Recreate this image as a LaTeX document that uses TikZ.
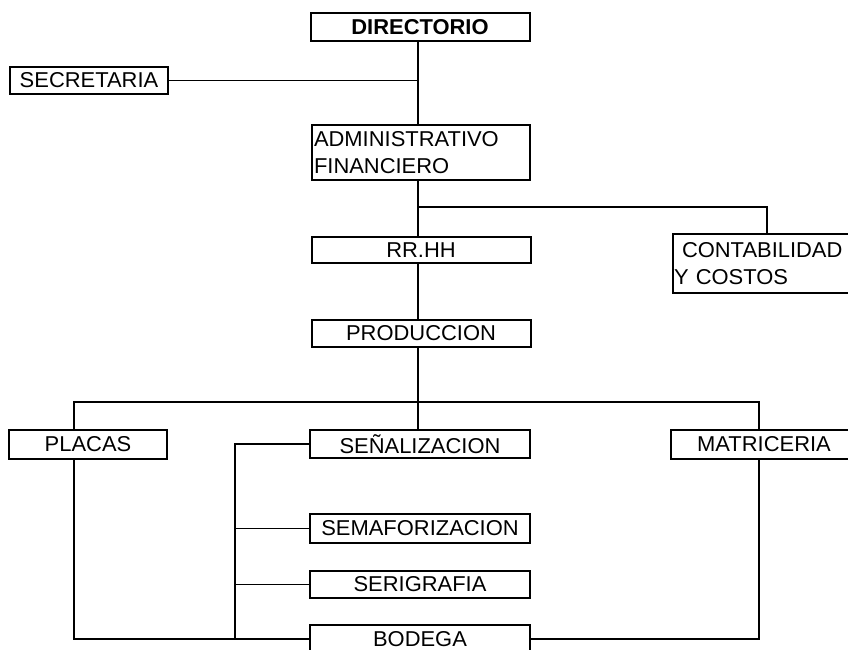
\documentclass[tikz,border=0pt]{standalone}
\usepackage{fontspec}
\setmainfont{Liberation Sans}[FakeStretch=1.02]
\begin{document}
\begin{tikzpicture}[x=1pt,y=-1pt,
  box/.style={draw, line width=2pt, inner sep=0pt, font=\fontsize{21.5}{27}\selectfont},
  wide/.style={box, minimum width=219, minimum height=28},
  link/.style={line width=1.4pt}]
\useasboundingbox (0,0) rectangle (848,650);
\clip (0,0) rectangle (848,650);
% nodes
\node[wide] (dir) at (420,27) {\textbf{DIRECTORIO}};
\node[box, minimum width=158, minimum height=27] (sec) at (89,80.5) {SECRETARIA};
\node[box, minimum width=218, minimum height=55, text width=214, align=left, inner xsep=2pt] (adm) at (421,152.5) {ADMINISTRATIVO\\FINANCIERO};
\node[wide, minimum height=26] (rrhh) at (421,250) {RR.HH};
\node[wide, minimum height=27] (prod) at (421,333.5) {PRODUCCION};
\node[box, anchor=north west, minimum height=59, text width=192, align=left, inner xsep=1pt] (cont) at (672,233) {\hspace*{8pt}CONTABILIDAD\\Y COSTOS};
\node[box, minimum width=158, minimum height=29] (placas) at (88,444.5) {PLACAS};
\node[wide, minimum width=220] (senal) at (420,444) {SEÑALIZACION};
\node[box, minimum width=186, minimum height=29] (matr) at (764,444.5) {MATRICERIA};
\node[wide, minimum width=220, minimum height=29] (semaf) at (420,528.5) {SEMAFORIZACION};
\node[wide, minimum width=220, minimum height=27] (serig) at (420,584.5) {SERIGRAFIA};
\node[wide, minimum width=220, minimum height=28] (bodega) at (420,639) {BODEGA};
% helper coordinates
\coordinate (t) at (418,0);
\coordinate (cx) at (767,0);
\coordinate (b1) at (418,207);
\coordinate (bus) at (418,402);
\coordinate (px) at (74,0);
\coordinate (mx) at (759,0);
\coordinate (lx) at (235,0);
% connectors
\draw[link] (dir.south -| t) -- (adm.north -| t);
\draw[link] (sec.east) -- (sec.east -| t);
\draw[link] (adm.south -| t) -- (rrhh.north -| t);
\draw[link] (b1) -| (cont.north -| cx);
\draw[link] (rrhh.south -| t) -- (prod.north -| t);
\draw[link] (prod.south -| t) -- (senal.north -| t);
\draw[link] (placas.north -| px) -- (px |- bus) -- (mx |- bus) -- (matr.north -| mx);
\draw[link] (senal.west) -- (lx |- senal.west) -- (lx |- bodega.west);
\draw[link] (semaf.west) -- (lx |- semaf.west);
\draw[link] (serig.west) -- (lx |- serig.west);
\draw[link] (placas.south -| px) -- (px |- bodega.west) -- (bodega.west);
\draw[link] (matr.south -| mx) -- (mx |- bodega.east) -- (bodega.east);
\end{tikzpicture}
\end{document}
